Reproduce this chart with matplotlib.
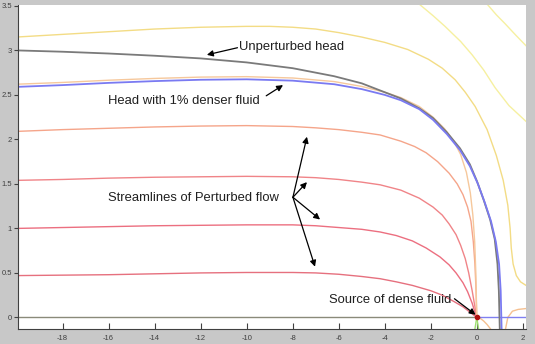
import matplotlib
matplotlib.use("Agg")
import matplotlib.pyplot as plt

plt.rcParams['font.family'] = ['Liberation Sans', 'DejaVu Sans']

# ---- data ----
head_x = [-20, -18, -16, -14, -12, -10, -8, -6.2, -5, -4, -3.3, -2.5, -1.9, -1.3, -0.73, -0.3,
          0.01, 0.3, 0.58, 0.78, 0.9, 0.96, 1.0]
head_y = [3.0, 2.985, 2.965, 2.94, 2.91, 2.865, 2.80, 2.71, 2.63, 2.53, 2.46, 2.35, 2.24, 2.08,
          1.90, 1.72, 1.53, 1.32, 1.10, 0.88, 0.60, 0.30, -0.13]

dense_x = [-20, -18, -16, -14, -12, -10, -8, -6.2, -5, -4, -3.3, -2.5, -1.9, -1.3, -0.73, -0.3,
           0.05, 0.35, 0.62, 0.83, 0.97, 1.04, 1.08]
dense_y = [2.59, 2.61, 2.635, 2.655, 2.67, 2.675, 2.66, 2.62, 2.565, 2.50, 2.44, 2.34, 2.22,
           2.06, 1.88, 1.70, 1.50, 1.29, 1.08, 0.85, 0.60, 0.30, -0.13]

s1_x = [-20, -18, -16, -14, -12, -10, -8, -7, -6, -5, -4.2, -3.5, -2.8, -2, -1.5, -1.0, -0.6,
        -0.3, -0.1, 0]
s1_y = [0.47, 0.475, 0.48, 0.49, 0.50, 0.505, 0.505, 0.50, 0.485, 0.46, 0.435, 0.40, 0.36,
        0.30, 0.25, 0.18, 0.12, 0.06, 0.02, 0]

s2_x = [-20, -18, -16, -14, -12, -10, -8, -7, -6, -5, -4.2, -3.5, -2.8, -2.2, -1.6, -1.2, -0.9,
        -0.6, -0.4, -0.2, -0.08, 0]
s2_y = [1.0, 1.01, 1.02, 1.03, 1.035, 1.04, 1.04, 1.03, 1.01, 0.99, 0.96, 0.92, 0.86, 0.78,
        0.68, 0.59, 0.50, 0.39, 0.29, 0.16, 0.06, 0]

s3_x = [-20, -18, -16, -14, -12, -10, -8, -7, -6, -5, -4.2, -3.3, -2.5, -1.9, -1.5, -1.2, -0.9,
        -0.7, -0.5, -0.35, -0.2, -0.08, 0]
s3_y = [1.54, 1.55, 1.565, 1.575, 1.58, 1.585, 1.58, 1.57, 1.55, 1.52, 1.49, 1.43, 1.34, 1.24,
        1.15, 1.05, 0.93, 0.81, 0.66, 0.50, 0.30, 0.12, 0]

s4_x = [-20, -18, -16, -14, -12, -10, -8, -7, -6, -5, -4.2, -3.3, -2.7, -2.2, -1.7, -1.2, -0.85,
        -0.6, -0.4, -0.25, -0.15, -0.08, -0.03, 0]
s4_y = [2.09, 2.11, 2.125, 2.14, 2.15, 2.155, 2.145, 2.13, 2.11, 2.08, 2.05, 1.98, 1.92, 1.85,
        1.75, 1.62, 1.50, 1.38, 1.24, 1.08, 0.85, 0.60, 0.30, 0]

s5_x = [-20, -18, -16, -14, -12, -10, -8, -6.2, -5, -4, -3.3, -2.5, -1.9, -1.4, -1.0, -0.7,
        -0.45, -0.28, -0.17, -0.09, -0.04, 0]
s5_y = [2.62, 2.64, 2.665, 2.685, 2.70, 2.705, 2.69, 2.65, 2.595, 2.53, 2.47, 2.37, 2.25, 2.12,
        1.98, 1.83, 1.63, 1.40, 1.15, 0.85, 0.50, 0]

yc_x = [-20, -18, -16, -14, -12, -10, -9, -8, -7, -6, -5, -4, -3, -2.1, -1.5, -0.94, -0.5, -0.07,
        0.45, 0.85, 1.15, 1.35, 1.45, 1.5, 1.58, 1.72, 1.9, 2.14]
yc_y = [3.15, 3.18, 3.21, 3.24, 3.26, 3.27, 3.27, 3.26, 3.24, 3.20, 3.15, 3.09, 3.01, 2.90, 2.80,
        2.67, 2.53, 2.37, 2.11, 1.82, 1.54, 1.26, 1.00, 0.78, 0.60, 0.47, 0.40, 0.36]

ya_x = [-2.5, -1.9, -1.38, -0.7, -0.2, 0.3, 0.8, 1.4, 2.15]
ya_y = [3.52, 3.39, 3.27, 3.10, 2.95, 2.78, 2.58, 2.38, 2.20]

yb_x = [0.45, 0.85, 1.23, 1.7, 2.15]
yb_y = [3.52, 3.40, 3.30, 3.17, 3.05]

ob1_x = [0.15, 0.3, 0.45, 0.6]
ob1_y = [-0.01, -0.04, -0.08, -0.13]
ob2_x = [1.25, 1.35, 1.55, 1.8, 2.15]
ob2_y = [-0.13, 0.0, 0.07, 0.09, 0.10]

base_gray_x = [-20, 0]
base_gray_y = [0, 0]
base_blue_x = [0, 2.15]
base_blue_y = [0, 0]

xticks = [-18, -16, -14, -12, -10, -8, -6, -4, -2, 0, 2]
yticks = [0, 0.5, 1, 1.5, 2, 2.5, 3, 3.5]
ytick_labels = ['0', '0.5', '1', '1.5', '2', '2.5', '3', '3.5']

# ---- figure ----
fig = plt.figure(figsize=(5.35, 3.44), dpi=100, facecolor='#c8c8c8')
ax = fig.add_axes([17.5 / 535, 1 - 329 / 344, (526 - 17.5) / 535, (329 - 5) / 344])
ax.set_facecolor('white')

ax.plot(ya_x, ya_y, color='#f6f0a0', lw=1.0)
ax.plot(yb_x, yb_y, color='#f6f0a0', lw=1.0)
ax.plot(yc_x, yc_y, color='#f3dc85', lw=1.0)
ax.plot(ob1_x, ob1_y, color='#f5c090', lw=1.0)
ax.plot(ob2_x, ob2_y, color='#f5c090', lw=1.0)
ax.plot(s1_x, s1_y, color='#e6707e', lw=1.0)
ax.plot(s2_x, s2_y, color='#ec6f80', lw=1.0)
ax.plot(s3_x, s3_y, color='#f08488', lw=1.0)
ax.plot(s4_x, s4_y, color='#f5a58a', lw=1.0)
ax.plot(s5_x, s5_y, color='#f6c89c', lw=1.0)
ax.plot(base_gray_x, base_gray_y, color='#8a8a7a', lw=1.0)
ax.plot(base_blue_x, base_blue_y, color='#8080f0', lw=1.0)
ax.plot(head_x, head_y, color='#7a7a7a', lw=1.3)
ax.plot(dense_x, dense_y, color='#7a7af2', lw=1.3)
ax.plot([0, -0.08], [0, -0.13], color='#9ee070', lw=1.0)
ax.plot([0, 0.08], [0, -0.13], color='#9ee070', lw=1.0)
ax.plot([0], [0], 'o', color='#b01010', ms=3)

ax.set_xlim(-19.96, 2.14)
ax.set_ylim(-0.13, 3.51)
ax.set_xticks(xticks)
ax.set_xticklabels([str(t) for t in xticks])
ax.set_yticks(yticks)
ax.set_yticklabels(ytick_labels)
ax.tick_params(axis='x', direction='in', length=4, width=0.8, pad=4, labelsize=5.5,
               colors='#404040')
ax.tick_params(axis='y', direction='out', length=3, width=0.8, pad=1, labelsize=5.5,
               colors='#404040')
for s in ['top', 'right']:
    ax.spines[s].set_visible(False)
for s in ['left', 'bottom']:
    ax.spines[s].set_color('#404040')
    ax.spines[s].set_linewidth(0.8)

aprops = dict(arrowstyle='-|>', color='black', lw=0.9, mutation_scale=9,
              shrinkA=0, shrinkB=0)
fs = 9.4
tc = '#202020'
ax.text(-10.33, 3.04, 'Unperturbed head', fontsize=fs, va='center', ha='left', color=tc)
ax.annotate('', xy=(-11.73, 2.95), xytext=(-10.4, 3.03), arrowprops=aprops)

ax.text(-16.03, 2.43, 'Head with 1% denser fluid', fontsize=fs, va='center', ha='left', color=tc)
ax.annotate('', xy=(-8.42, 2.61), xytext=(-9.15, 2.49), arrowprops=aprops)

ax.text(-16.03, 1.34, 'Streamlines of Perturbed flow', fontsize=fs, va='center', ha='left', color=tc)
for tx, ty in [(-7.38, 2.03), (-7.38, 1.52), (-6.81, 1.10), (-7.03, 0.57)]:
    ax.annotate('', xy=(tx, ty), xytext=(-7.99, 1.35), arrowprops=aprops)

ax.text(-3.78, 0.20, 'Source of dense fluid', fontsize=fs, va='center', ha='center', color=tc)
ax.annotate('', xy=(-0.05, 0.03), xytext=(-0.97, 0.21), arrowprops=aprops)

fig.savefig('out.png', dpi=100, facecolor=fig.get_facecolor())
